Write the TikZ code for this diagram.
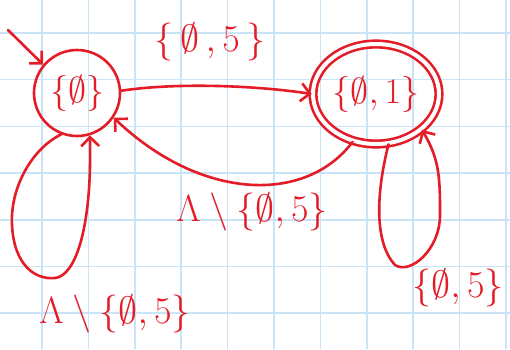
\RequirePackage{fix-cm}
\documentclass[tikz,border=0pt]{standalone}
\usepackage{amssymb}
\usetikzlibrary{arrows.meta,shapes.geometric}
\definecolor{ink}{RGB}{228,28,40}
\definecolor{gridc}{RGB}{200,228,246}
\tikzset{
  statebox/.style={draw=ink, line width=2.6pt, inner sep=0pt, text=ink, font=\fontsize{36}{42}\selectfont},
  lbl/.style={text=ink, inner sep=1pt, font=\fontsize{38}{44}\selectfont},
  arr/.style={draw=ink, line width=2.6pt, line cap=round, -{Straight Barb[length=9pt,width=18pt,line width=2.6pt]}},
  gridline/.style={draw=gridc, line width=1.5pt}
}
\begin{document}
\begin{tikzpicture}[x=1pt,y=-1pt]
\fill[white] (0,0) rectangle (510,349);
\useasboundingbox (0,0) rectangle (510,349);
\foreach \i in {0,...,10} {\draw[gridline] ({42+46.4*\i},0) -- ({42+46.4*\i},349);}
\foreach \j in {0,...,6} {\draw[gridline] (0,{33+46.7*\j}) -- (510,{33+46.7*\j});}

\node[statebox, circle, minimum size=86pt] (s0) at (77,93) {$\{\emptyset\}$};
\node[statebox, ellipse, minimum width=126pt, minimum height=100pt, double=white, double distance=4pt] (s1) at (376,94) {$\{\emptyset,1\}$};

\coordinate (init) at (8,30);
\draw[arr] (init) -- (s0.140);

\draw[arr] (s0.3) .. controls (180,82) and (260,86) .. (s1.west);
\draw[arr] (s1.244) .. controls (305,205) and (200,200) .. (s0.326);
\draw[arr] (s0.249) .. controls (30,150) and (10,190) .. (12,225) .. controls (14,265) and (35,280) .. (55,278) .. controls (75,276) and (92,230) .. (s0.287);
\draw[arr] (s1.284) .. controls (378,185) and (372,240) .. (395,265) .. controls (410,275) and (440,250) .. (440,215) .. controls (440,180) and (440,160) .. (s1.322);

\node[lbl] (l01) at (210,42) {$\{\,\emptyset\,,5\,\}$};
\node[lbl] (l10) at (252,212) {$\Lambda\setminus\{\emptyset,5\}$};
\node[lbl] (l00) at (115,314) {$\Lambda\setminus\{\emptyset,5\}$};
\node[lbl] (l11) at (458,288) {$\{\emptyset,5\}$};
\end{tikzpicture}
\end{document}
